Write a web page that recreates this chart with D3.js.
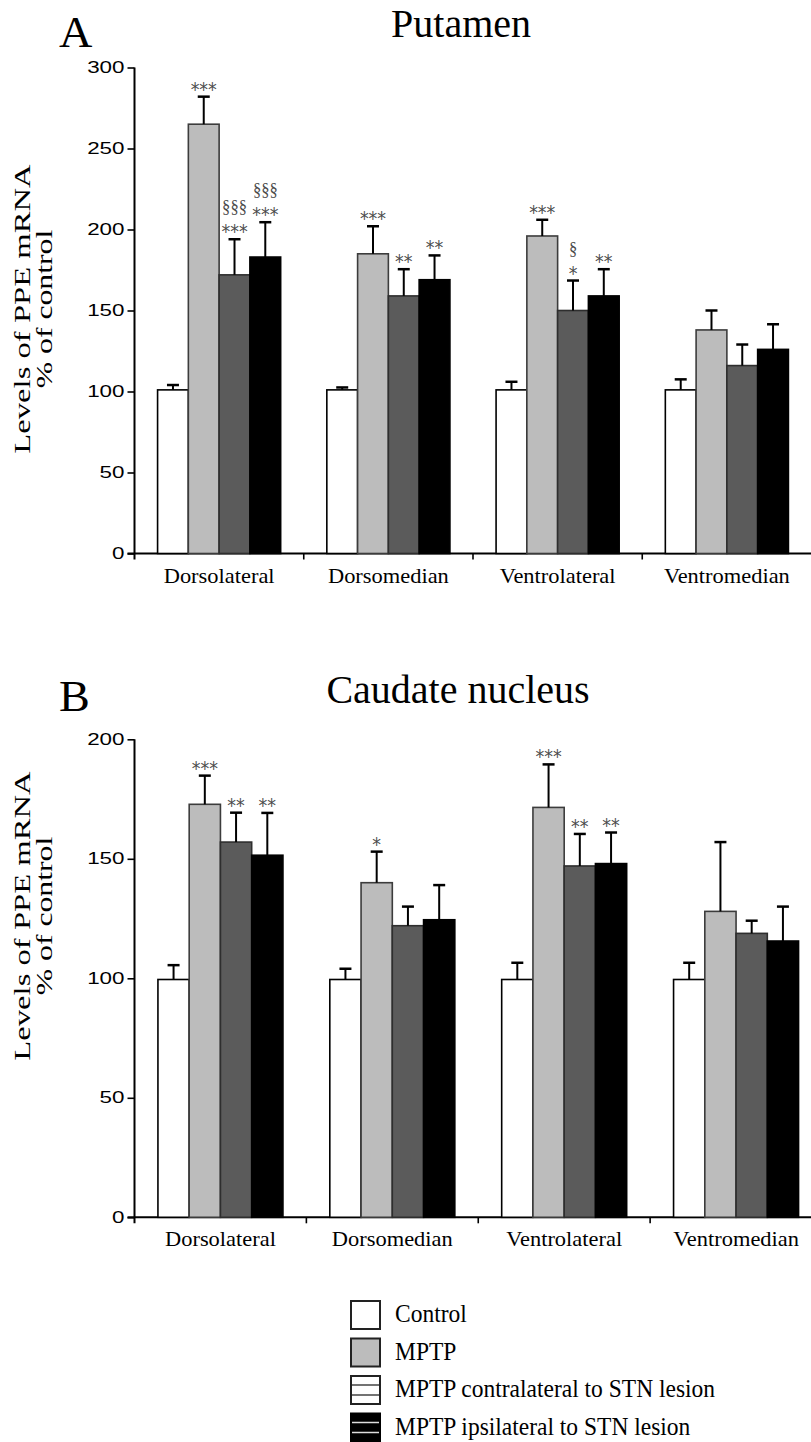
<!DOCTYPE html>
<html>
<head>
<meta charset="utf-8">
<script src="https://cdn.jsdelivr.net/npm/d3@7"></script>
<style>
  body { margin: 0; background: #fff; }
  svg { display: block; font-family: "Liberation Serif", "DejaVu Serif", serif; }
</style>
</head>
<body>
<div id="vis"></div>
<script>
const regions = ['Dorsolateral', 'Dorsomedian', 'Ventrolateral', 'Ventromedian'];
const groups = ['Control', 'MPTP', 'MPTP contralateral to STN lesion', 'MPTP ipsilateral to STN lesion'];

// Putamen, % of control (one array per group, in region order)
const putControl = [101, 101, 101, 101];
const putMptp = [265, 185, 196, 138];
const putContra = [172, 159, 150, 116];
const putIpsi = [183, 169, 159, 126];
const putControlErr = [3, 1.5, 5, 6.5];
const putMptpErr = [17, 17, 10, 12];
const putContraErr = [22, 16.5, 18.5, 13];
const putIpsiErr = [21.5, 15, 16.5, 15.5];
const putSig = [
  [[], ['***'], ['§§§', '***'], ['§§§', '***']],
  [[], ['***'], ['**'], ['**']],
  [[], ['***'], ['§', '*'], ['**']],
  [[], [], [], []]
];
const putTicks = [0, 50, 100, 150, 200, 250, 300];

// Caudate nucleus
const caudControl = [99.5, 99.5, 99.5, 99.5];
const caudMptp = [172.8, 140, 171.5, 128];
const caudContra = [157, 122, 147, 118.8];
const caudIpsi = [151.5, 124.5, 148, 115.6];
const caudControlErr = [6, 4.5, 7, 7];
const caudMptpErr = [12, 13, 18, 29];
const caudContraErr = [12.3, 8, 13.4, 5.3];
const caudIpsiErr = [17.7, 14.5, 13, 14.4];
const caudSig = [
  [[], ['***'], ['**'], ['**']],
  [[], ['*'], [], []],
  [[], ['***'], ['**'], ['**']],
  [[], [], [], []]
];
const caudTicks = [0, 50, 100, 150, 200];

const fills = ['#ffffff', '#bcbcbc', '#5b5b5b', '#000000'];
const strokes = ['#000000', '#3c3c3c', '#2e2e2e', '#000000'];
const legendFills = ['#ffffff', '#bcbcbc', '#ffffff', '#000000'];

const svg = d3.select('#vis').append('svg')
  .attr('width', 811)
  .attr('height', 1442);

// text that is stretched along its baseline, like the scanned figure
function stretchText(g, x, y, str, size, sx, anchor, rot) {
  const t = g.append('g')
    .attr('transform', 'translate(' + x + ',' + y + ')' + (rot ? ' rotate(' + rot + ')' : '') + ' scale(' + sx + ',1)');
  return t.append('text')
    .attr('text-anchor', anchor || 'start')
    .attr('font-size', size)
    .attr('fill', '#000')
    .text(str);
}

function drawPanel(p) {
  const g = svg.append('g');
  const y = d3.scaleLinear().domain([0, p.ymax]).range(p.yRange);
  const x0 = d3.scaleBand().domain(regions).range(p.xRange).padding(0);
  const x1 = d3.scaleBand().domain(groups).range([0, x0.bandwidth()])
    .paddingInner(0).paddingOuter(0.75);

  const rows = [];
  regions.forEach((r, i) => {
    groups.forEach((gr, j) => {
      rows.push({ region: r, group: gr, j: j, v: p.means[j][i], e: p.errs[j][i], sig: p.sig[i][j] });
    });
  });

  // axes
  const yAxis = d3.axisLeft(y).tickValues(p.ticks).tickSize(7).tickSizeOuter(0).tickFormat(d3.format('d'));
  const ya = g.append('g')
    .attr('transform', 'translate(' + p.xRange[0] + ',0)')
    .call(yAxis);
  ya.select('.domain').remove();
  ya.selectAll('.tick line').attr('stroke', '#000').attr('stroke-width', 1.6);
  ya.selectAll('.tick text').remove();
  ya.selectAll('.tick').each(function (d) {
    stretchText(d3.select(this), -10, 5, d, 16, 1.4, 'end');
  });
  g.append('line')
    .attr('x1', p.xRange[0]).attr('x2', p.xRange[0])
    .attr('y1', y(p.ymax)).attr('y2', y(0) + 6)
    .attr('stroke', '#000').attr('stroke-width', 2);

  const xa = g.append('g');
  xa.append('line')
    .attr('x1', p.xRange[0] - 7).attr('x2', p.xRange[1])
    .attr('y1', y(0)).attr('y2', y(0))
    .attr('stroke', '#000').attr('stroke-width', 2);
  xa.selectAll('.sep').data(regions.slice(1)).join('line')
    .attr('class', 'sep')
    .attr('x1', d => x0(d)).attr('x2', d => x0(d))
    .attr('y1', y(0)).attr('y2', y(0) + 6)
    .attr('stroke', '#000').attr('stroke-width', 1.6);
  regions.forEach(r => {
    stretchText(xa, x0(r) + x0.bandwidth() / 2, y(0) + 29, r, 22, 1.02, 'middle');
  });

  // bars
  g.selectAll('.bar').data(rows).join('rect')
    .attr('class', 'bar')
    .attr('x', d => x0(d.region) + x1(d.group))
    .attr('y', d => y(d.v))
    .attr('width', x1.bandwidth())
    .attr('height', d => y(0) - y(d.v))
    .attr('fill', d => fills[d.j])
    .attr('stroke', d => strokes[d.j])
    .attr('stroke-width', 1.6);

  // error bars
  const cx = d => x0(d.region) + x1(d.group) + x1.bandwidth() / 2;
  g.selectAll('.err').data(rows).join('line')
    .attr('class', 'err')
    .attr('x1', cx).attr('x2', cx)
    .attr('y1', d => y(d.v)).attr('y2', d => y(d.v + d.e))
    .attr('stroke', '#000').attr('stroke-width', 2);
  g.selectAll('.cap').data(rows).join('line')
    .attr('class', 'cap')
    .attr('x1', d => cx(d) - 6).attr('x2', d => cx(d) + 6)
    .attr('y1', d => y(d.v + d.e)).attr('y2', d => y(d.v + d.e))
    .attr('stroke', '#000').attr('stroke-width', 2.5);

  // significance marks, stacked upward from the cap
  rows.filter(d => d.sig.length).forEach(d => {
    const t = g.append('g')
      .attr('transform', 'translate(' + cx(d) + ',' + y(d.v + d.e) + ') scale(0.92,1)')
      .append('text')
      .attr('text-anchor', 'middle')
      .attr('fill', '#4a4a4a');
    let base = 0;
    const lines = [];
    d.sig.slice().reverse().forEach(s => {
      const isStar = s.indexOf('*') >= 0;
      lines.unshift({ s: s, star: isStar, y: isStar ? base - 1 : base - 3 });
      base -= isStar ? 23 : 20;
    });
    lines.forEach(l => {
      t.append('tspan')
        .attr('x', 0).attr('y', l.y)
        .attr('font-size', l.star ? 19 : 18)
        .attr('font-family', l.star ? '"DejaVu Sans", sans-serif' : null)
        .text(l.s);
    });
  });

  // panel letter, title, y title
  stretchText(g, p.letterPos[0], p.letterPos[1], p.letter, 44, 1.05, 'start');
  stretchText(g, p.titlePos[0], p.titlePos[1], p.title, 40, 1.0, 'middle');
  stretchText(g, 30, p.yTitleY, 'Levels of PPE mRNA', 23, 1.42, 'middle', -90);
  stretchText(g, 52, p.yTitleY, '% of control', 23, 1.38, 'middle', -90);
}

drawPanel({
  ymax: 300, yRange: [553.5, 67.5], xRange: [134.5, 811.5], ticks: putTicks,
  means: [putControl, putMptp, putContra, putIpsi],
  errs: [putControlErr, putMptpErr, putContraErr, putIpsiErr],
  sig: putSig,
  letter: 'A', letterPos: [59, 47], title: 'Putamen', titlePos: [461, 37], yTitleY: 309
});

drawPanel({
  ymax: 200, yRange: [1217.3, 739.3], xRange: [134.5, 822], ticks: caudTicks,
  means: [caudControl, caudMptp, caudContra, caudIpsi],
  errs: [caudControlErr, caudMptpErr, caudContraErr, caudIpsiErr],
  sig: caudSig,
  letter: 'B', letterPos: [59, 711], title: 'Caudate nucleus', titlePos: [458, 703], yTitleY: 916
});

// legend
const legend = svg.append('g').attr('transform', 'translate(350,1300)');
const item = legend.selectAll('.item').data(groups).join('g')
  .attr('class', 'item')
  .attr('transform', (d, i) => 'translate(0,' + (i * 37.5) + ')');
item.append('rect')
  .attr('x', 1).attr('y', 1).attr('width', 29).attr('height', 28)
  .attr('fill', (d, i) => legendFills[i])
  .attr('stroke', (d, i) => i === 3 ? '#000' : '#222')
  .attr('stroke-width', 2);
item.filter((d, i) => i >= 2).each(function (d, i) {
  const it = d3.select(this);
  [10, 20].forEach(ly => {
    it.append('line')
      .attr('x1', 2).attr('x2', 29).attr('y1', ly).attr('y2', ly)
      .attr('stroke', i === 0 ? '#444' : '#ddd').attr('stroke-width', 1.5);
  });
});
item.each(function (d) {
  stretchText(d3.select(this), 45, 22, d, 25, 0.94, 'start');
});
</script>
</body>
</html>
